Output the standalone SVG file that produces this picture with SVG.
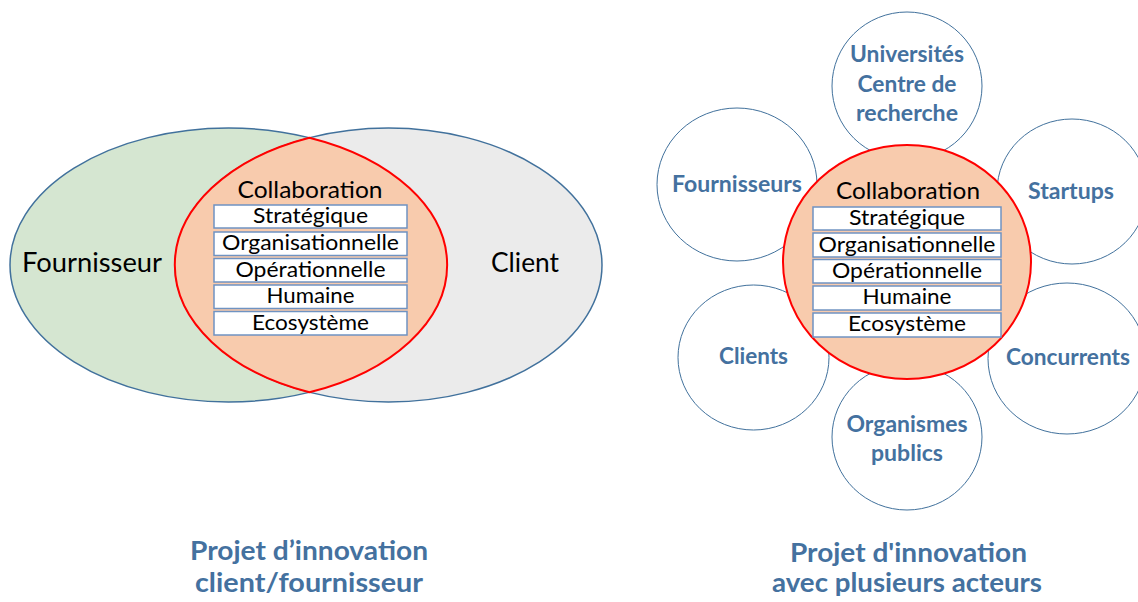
<svg xmlns="http://www.w3.org/2000/svg" width="1138" height="602" viewBox="0 0 1138 602">
<style>
.bg{fill:#ffffff}
.ell{stroke:#41719c;stroke-width:1.5}
.lens{fill:#f8cbad;stroke:#ff0000;stroke-width:2}
.box{fill:#ffffff;stroke:#6f93c2;stroke-width:1.5}
.sat{fill:#ffffff;stroke:#41719c;stroke-width:1}
.t{font-family:Lato,"Liberation Sans",sans-serif;fill:#000000;text-anchor:middle}
.big{font-size:27px}
.col{font-size:23px}
.bx{font-size:21px}
.st{font-family:Lato,"Liberation Sans",sans-serif;font-weight:bold;font-size:22px;fill:#44719f;text-anchor:middle}
.ti{font-family:Lato,"Liberation Sans",sans-serif;font-weight:bold;font-size:26px;fill:#44719f;text-anchor:middle}
</style>
<rect class="bg" x="0" y="0" width="1138" height="602"/>

<g id="venn">
  <g id="fournisseur">
    <ellipse class="ell" cx="228.5" cy="265" rx="218.5" ry="137" fill="#d5e6d1"/>
    <text class="t big" x="92" y="272" textLength="140" lengthAdjust="spacingAndGlyphs">Fournisseur</text>
  </g>
  <g id="client">
    <ellipse class="ell" cx="388.5" cy="265" rx="213.5" ry="137" fill="#ebebeb"/>
    <text class="t big" x="525" y="272" textLength="68" lengthAdjust="spacingAndGlyphs">Client</text>
  </g>
  <g id="collab-left">
    <path class="lens" d="M309.4 137.7 A213.5 137 0 0 0 309.4 392.3 A218.5 137 0 0 0 309.4 137.7 Z"/>
    <text class="t col" x="310" y="198" textLength="145" lengthAdjust="spacingAndGlyphs">Collaboration</text>
    <rect class="box" x="214" y="205" width="193" height="23"/>
    <text class="t bx" x="310.5" y="223" textLength="115" lengthAdjust="spacingAndGlyphs">Stratégique</text>
    <rect class="box" x="214" y="232" width="193" height="23.5"/>
    <text class="t bx" x="310.5" y="250" textLength="177" lengthAdjust="spacingAndGlyphs">Organisationnelle</text>
    <rect class="box" x="214" y="258.5" width="193" height="23.5"/>
    <text class="t bx" x="310.5" y="276.5" textLength="150" lengthAdjust="spacingAndGlyphs">Opérationnelle</text>
    <rect class="box" x="214" y="285" width="193" height="23.5"/>
    <text class="t bx" x="310.5" y="303" textLength="88" lengthAdjust="spacingAndGlyphs">Humaine</text>
    <rect class="box" x="214" y="311.5" width="193" height="23.5"/>
    <text class="t bx" x="310.5" y="329.5" textLength="117" lengthAdjust="spacingAndGlyphs">Ecosystème</text>
  </g>
  <g id="title-left">
    <text class="ti" x="309" y="560" textLength="238" lengthAdjust="spacingAndGlyphs">Projet d’innovation</text>
    <text class="ti" x="309" y="592" textLength="228" lengthAdjust="spacingAndGlyphs">client/fournisseur</text>
  </g>
</g>

<g id="connectors"></g>

<g id="flower">
  <g id="universites">
    <ellipse class="sat" cx="907" cy="86" rx="75" ry="74"/>
    <text class="st" x="907" y="62" textLength="114" lengthAdjust="spacingAndGlyphs">Universités</text>
    <text class="st" x="907" y="92" textLength="99" lengthAdjust="spacingAndGlyphs">Centre de</text>
    <text class="st" x="907" y="121" textLength="102" lengthAdjust="spacingAndGlyphs">recherche</text>
  </g>
  <g id="fournisseurs">
    <ellipse class="sat" cx="737" cy="184.5" rx="80" ry="76.5"/>
    <text class="st" x="737" y="192" textLength="130" lengthAdjust="spacingAndGlyphs">Fournisseurs</text>
  </g>
  <g id="startups">
    <ellipse class="sat" cx="1072" cy="191.5" rx="75" ry="72.5"/>
    <text class="st" x="1071" y="199" textLength="86" lengthAdjust="spacingAndGlyphs">Startups</text>
  </g>
  <g id="clients">
    <ellipse class="sat" cx="753.5" cy="357.5" rx="75.5" ry="72.5"/>
    <text class="st" x="753.5" y="364" textLength="69" lengthAdjust="spacingAndGlyphs">Clients</text>
  </g>
  <g id="concurrents">
    <ellipse class="sat" cx="1067" cy="358.5" rx="79" ry="75.5"/>
    <text class="st" x="1068" y="365" textLength="124" lengthAdjust="spacingAndGlyphs">Concurrents</text>
  </g>
  <g id="organismes">
    <ellipse class="sat" cx="907" cy="437" rx="75" ry="73"/>
    <text class="st" x="907" y="432" textLength="121" lengthAdjust="spacingAndGlyphs">Organismes</text>
    <text class="st" x="907" y="461" textLength="72" lengthAdjust="spacingAndGlyphs">publics</text>
  </g>
  <g id="collab-right">
    <ellipse class="lens" cx="907" cy="262" rx="124" ry="117"/>
    <text class="t col" x="908" y="199" textLength="144" lengthAdjust="spacingAndGlyphs">Collaboration</text>
    <rect class="box" x="813" y="207" width="188" height="23"/>
    <text class="t bx" x="907" y="225" textLength="116" lengthAdjust="spacingAndGlyphs">Stratégique</text>
    <rect class="box" x="813" y="233" width="188" height="24"/>
    <text class="t bx" x="907" y="251.5" textLength="177" lengthAdjust="spacingAndGlyphs">Organisationnelle</text>
    <rect class="box" x="813" y="259.5" width="188" height="23.5"/>
    <text class="t bx" x="907" y="277.5" textLength="150" lengthAdjust="spacingAndGlyphs">Opérationnelle</text>
    <rect class="box" x="813" y="286" width="188" height="24"/>
    <text class="t bx" x="907" y="304" textLength="89" lengthAdjust="spacingAndGlyphs">Humaine</text>
    <rect class="box" x="813" y="313" width="188" height="24"/>
    <text class="t bx" x="907" y="331" textLength="118" lengthAdjust="spacingAndGlyphs">Ecosystème</text>
  </g>
  <g id="title-right">
    <text class="ti" x="908.5" y="562" textLength="237" lengthAdjust="spacingAndGlyphs">Projet d'innovation</text>
    <text class="ti" x="907" y="592" textLength="270" lengthAdjust="spacingAndGlyphs">avec plusieurs acteurs</text>
  </g>
</g>
</svg>
